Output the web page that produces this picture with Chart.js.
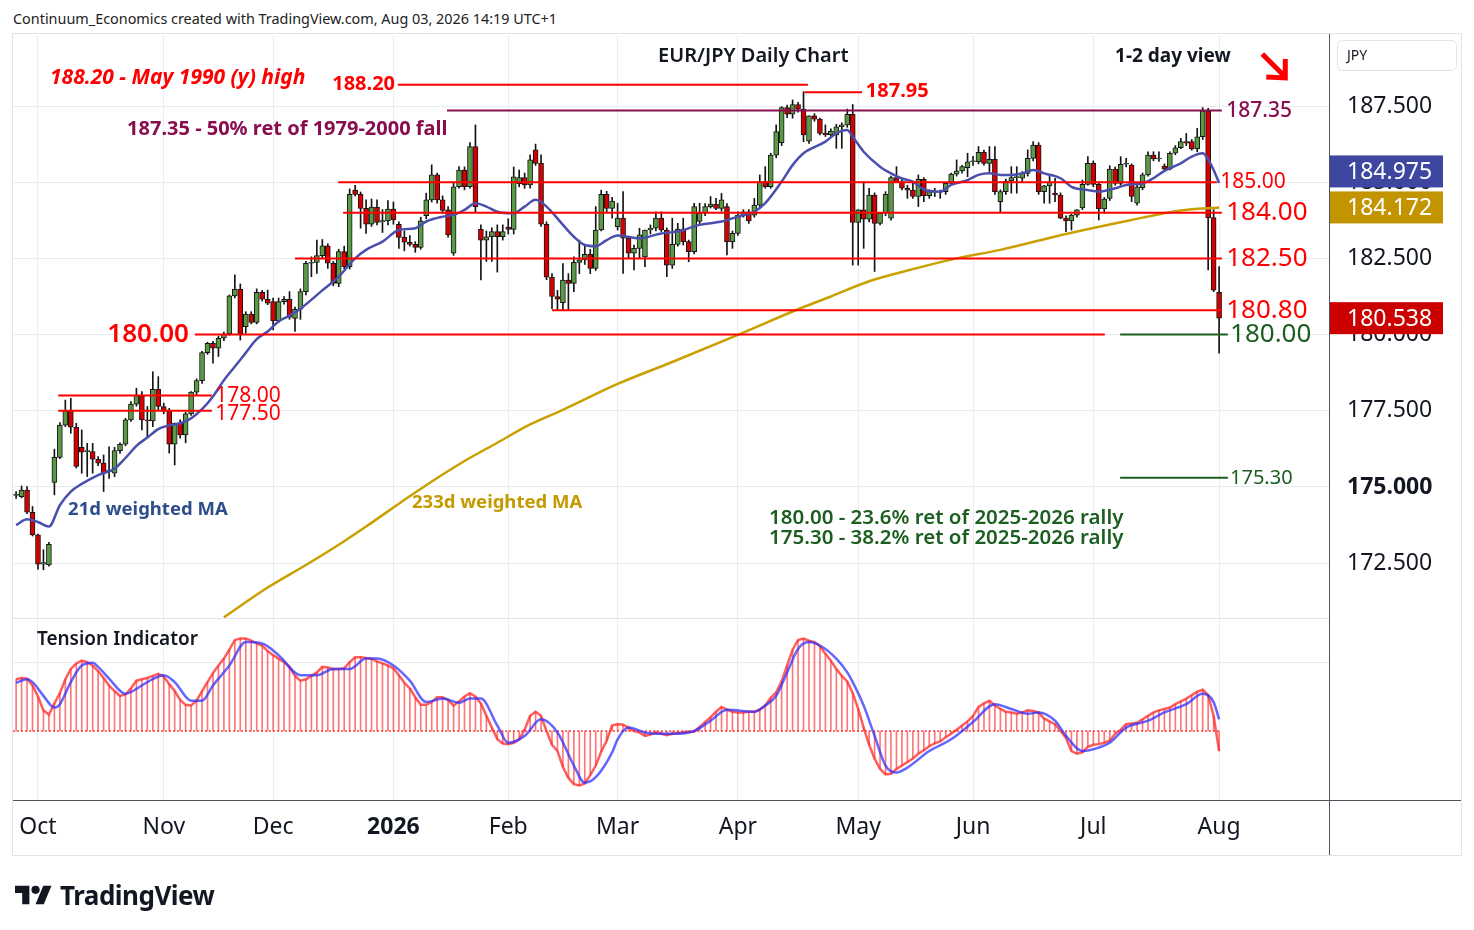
<!DOCTYPE html>
<html>
<head>
<meta charset="utf-8">
<title>EUR/JPY Daily Chart</title>
<script src="https://cdn.jsdelivr.net/npm/chart.js@4.4.1/dist/chart.umd.min.js"></script>
<style>
  html, body { margin: 0; padding: 0; background: #fff; }
  body { position: relative; width: 1474px; height: 930px; overflow: hidden; font-family: "Noto Sans", sans-serif; color: #131722; }
  #header { position: absolute; left: 13px; top: 8px; font-size: 14.4px; line-height: 22px; white-space: nowrap; color: #222; }
  #priceCanvas { position: absolute; left: 0; top: 0; }
  #tensionCanvas { position: absolute; left: 0; top: 618px; }
  #logo { position: absolute; left: 15px; top: 877px; display: flex; align-items: center; gap: 8px; font-weight: 700; font-size: 26px; letter-spacing: -0.5px; color: #131722; }
</style>
</head>
<body>
<div id="header">Continuum_Economics created with TradingView.com, Aug 03, 2026 14:19 UTC+1</div>
<canvas id="priceCanvas" width="1474" height="620"></canvas>
<canvas id="tensionCanvas" width="1474" height="312"></canvas>
<div id="logo"><svg width="37" height="20" viewBox="0 4 36 18"><path d="M14 22H7V11H0V4h14v18z" fill="#131722"/><circle cx="20" cy="8" r="4" fill="#131722"/><path d="M28 22h-8l7.5-18h8L28 22z" fill="#131722"/></svg><span>TradingView</span></div>
<script>
// ---- data (daily bars, 25 Sep 2025 .. 3 Aug 2026, index = bar number) ----
const monthIdx = [4, 27, 47, 69, 90, 110, 132, 154, 175, 197, 220];
const monthLabels = ['Oct', 'Nov', 'Dec', '2026', 'Feb', 'Mar', 'Apr', 'May', 'Jun', 'Jul', 'Aug'];
const priceTicks = [172.5, 175, 177.5, 180, 182.5, 185, 187.5];

const opens = [
  174.72,174.68,174.90,174.17,173.43,172.47,172.44,175.15,175.97,177.03,
  177.49,176.96,176.30,176.16,176.16,175.91,175.78,175.50,175.45,176.19,
  176.40,177.20,177.72,178.00,177.20,177.17,178.20,177.64,177.49,176.40,
  177.09,176.71,177.40,178.11,178.49,179.41,179.71,179.55,179.88,180.02,
  181.27,181.49,180.26,180.67,180.40,181.39,181.16,181.08,180.45,181.08,
  181.16,180.53,180.83,181.41,182.34,182.37,182.59,182.91,182.34,181.68,
  182.72,182.23,184.74,184.60,184.14,183.62,184.18,183.70,183.73,184.12,
  183.62,183.19,183.03,182.96,182.86,183.90,184.42,185.24,184.42,184.09,
  182.67,184.85,185.40,184.85,186.17,183.45,183.10,183.21,183.38,183.21,
  183.52,183.45,184.95,185.15,184.91,186.06,185.62,183.62,181.88,181.25,
  181.05,181.79,181.68,182.37,182.45,182.63,182.17,183.43,184.60,184.14,
  183.54,183.82,183.16,182.67,182.83,182.55,183.43,183.49,183.82,183.43,
  182.28,182.96,183.46,183.05,182.72,183.71,183.98,184.20,184.28,184.14,
  184.20,183.05,183.32,183.92,184.03,183.92,184.25,185.02,184.85,185.89,
  186.30,187.45,187.23,187.55,187.40,186.35,187.18,187.07,186.60,186.55,
  186.55,186.82,186.88,187.23,183.68,184.09,183.79,184.58,183.65,183.98,
  183.82,185.15,185.02,184.80,184.74,184.53,185.09,184.56,184.67,184.69,
  184.69,184.96,185.26,185.37,185.48,185.67,185.67,185.98,185.62,185.75,
  184.36,184.69,185.04,185.15,185.13,185.29,185.78,186.22,184.69,184.88,
  184.64,184.58,183.82,183.73,183.92,184.16,184.93,185.62,184.93,184.12,
  184.47,185.43,184.96,185.59,185.56,184.31,184.82,185.24,185.89,185.76,
  185.53,185.43,185.95,186.13,186.33,186.33,186.09,186.49,187.34,183.84,
  181.39
];
const highs = [
  174.85,175.03,175.01,174.36,173.45,172.94,173.18,176.24,177.11,177.85,
  177.91,177.09,176.87,176.43,176.43,176.00,176.05,176.32,176.30,176.45,
  177.25,177.80,178.24,178.13,177.64,178.78,178.62,177.75,177.58,177.10,
  177.20,177.45,178.13,178.55,179.45,179.75,179.78,179.95,180.08,181.30,
  181.96,181.66,180.75,180.75,181.50,181.45,181.46,181.20,181.20,181.25,
  181.41,180.90,181.50,182.40,182.55,183.10,183.12,182.98,182.40,182.80,
  182.90,184.78,184.90,184.68,184.42,184.45,184.42,184.10,184.40,184.35,
  183.70,183.40,183.25,183.05,183.85,184.64,185.57,185.30,184.55,184.20,
  185.00,185.51,185.50,186.30,186.88,183.60,183.40,183.50,183.60,183.60,
  183.80,185.50,185.40,185.30,185.90,186.25,185.90,183.70,182.00,181.45,
  182.33,182.00,182.55,183.10,182.95,182.80,184.20,184.74,184.70,184.50,
  184.31,184.69,183.20,182.94,183.49,183.43,183.60,184.03,184.03,183.50,
  183.82,183.65,183.82,183.10,184.31,184.31,184.30,184.53,184.47,184.63,
  184.30,183.40,184.03,184.10,184.10,184.47,185.24,185.51,185.95,186.88,
  187.48,187.53,187.70,187.62,187.97,187.18,187.25,187.10,186.88,186.75,
  186.90,186.95,187.40,187.55,184.10,185.02,184.80,184.65,184.00,184.69,
  185.20,185.51,185.10,184.90,184.96,185.24,185.15,184.75,184.80,184.74,
  185.00,185.30,185.73,185.55,185.95,185.85,186.17,186.05,186.17,186.17,
  184.75,185.10,185.51,185.51,185.35,186.06,186.33,186.30,184.90,185.24,
  185.13,184.65,183.90,183.95,184.10,185.07,185.84,185.70,185.00,184.50,
  185.54,185.50,185.84,185.78,185.60,184.90,185.30,186.00,186.00,186.00,
  185.60,186.00,186.20,186.44,186.60,186.40,186.77,187.45,187.42,184.10,
  182.23
];
const lows = [
  174.62,174.64,174.12,173.39,172.30,172.28,172.40,174.74,175.93,176.98,
  176.76,175.62,175.45,175.34,175.45,175.70,174.85,175.28,175.34,176.10,
  176.35,177.15,177.65,176.87,176.65,176.98,177.53,177.40,176.11,175.72,
  176.60,176.45,177.35,178.00,178.40,179.35,179.06,179.28,179.80,179.98,
  181.20,179.82,180.04,180.35,180.35,181.10,180.98,180.15,180.40,181.00,
  180.50,180.10,180.50,181.30,181.90,182.01,182.50,182.17,181.60,181.57,
  182.15,182.15,184.55,183.49,183.32,183.55,183.60,183.35,183.60,183.62,
  182.83,182.75,182.90,182.70,182.80,183.80,184.35,184.31,183.98,183.20,
  182.60,184.80,184.75,184.80,184.00,181.79,182.40,182.40,182.05,183.10,
  183.30,183.30,184.85,184.80,184.80,185.55,183.55,181.80,180.85,180.81,
  180.81,180.81,181.41,182.00,182.30,182.00,182.10,183.40,184.00,183.82,
  183.43,182.01,182.50,182.12,182.50,182.23,183.30,183.40,183.38,181.90,
  182.17,182.90,182.94,182.39,182.65,183.60,183.90,184.15,184.10,184.05,
  182.61,182.83,183.25,183.85,183.65,183.85,184.20,184.80,184.80,185.80,
  186.20,187.12,187.10,187.30,186.33,186.27,187.00,186.55,186.50,186.50,
  186.11,186.11,186.80,182.28,182.28,182.83,183.70,182.07,183.60,183.90,
  183.75,185.00,184.75,184.47,184.47,184.20,184.36,184.47,184.53,184.47,
  184.60,184.90,185.20,185.30,185.18,185.55,185.60,185.56,185.35,184.60,
  184.03,184.60,184.64,184.64,185.00,185.20,185.70,184.60,184.31,184.31,
  184.36,183.80,183.38,183.43,183.85,184.10,184.90,184.85,183.76,183.98,
  184.40,184.90,184.90,185.50,184.36,184.25,184.75,185.20,185.70,185.68,
  185.35,185.40,185.90,186.10,186.20,186.05,186.00,186.40,182.12,181.41,
  179.39
];
const closes = [
  174.76,174.90,174.17,173.43,172.47,172.52,173.12,175.97,177.03,177.49,
  176.96,175.67,176.14,176.16,175.91,175.78,175.45,175.55,176.19,176.40,
  177.20,177.72,178.00,177.20,177.17,178.20,177.64,177.49,176.40,177.09,
  176.71,177.40,178.11,178.49,179.41,179.71,179.55,179.88,180.02,181.27,
  181.49,180.02,180.67,180.40,181.39,181.16,181.03,180.45,181.08,181.16,
  180.57,180.83,181.41,182.34,182.37,182.59,182.91,182.34,181.68,182.72,
  182.23,184.60,184.60,184.14,183.62,184.18,183.68,183.74,184.12,183.76,
  183.19,183.03,182.96,182.86,183.73,184.42,185.24,184.42,184.07,183.27,
  184.85,185.40,184.85,186.17,184.20,183.10,183.21,183.38,183.21,183.38,
  183.45,185.18,185.15,184.91,185.73,185.62,183.62,181.88,181.25,181.16,
  181.79,181.68,182.37,182.45,182.63,182.17,183.43,184.60,184.14,184.38,
  183.82,183.16,182.67,182.83,183.27,183.43,183.49,183.82,183.43,182.28,
  182.96,183.46,183.05,182.72,184.20,183.98,184.20,184.28,184.14,184.42,
  183.05,183.32,183.92,184.03,183.73,184.25,185.02,184.85,185.89,186.66,
  187.45,187.23,187.55,187.40,186.55,187.18,187.07,186.60,186.55,186.68,
  186.82,186.88,187.23,183.68,184.09,183.79,184.58,183.65,183.98,184.60,
  185.15,185.02,184.80,184.74,184.53,185.09,184.56,184.69,184.69,184.67,
  184.96,185.27,185.37,185.51,185.67,185.70,185.98,185.62,185.75,184.69,
  184.69,185.04,185.15,185.16,185.29,185.78,186.22,184.69,184.88,185.00,
  184.58,183.82,183.73,183.92,184.09,184.93,185.62,184.93,184.12,184.45,
  185.43,184.96,185.59,185.60,184.53,184.85,185.24,185.89,185.76,185.76,
  185.43,185.95,186.13,186.33,186.28,186.09,186.49,187.34,183.84,181.46,
  180.538
];

// 21d weighted MA at these bars
const wma21Idx = [0,2,4,6,8,10,12,15,18,20,22,24,26,28,30,32,34,36,38,40,42,44,46,48,50,52,56,59,62,64,
  67,70,73,75,78,80,82,84,86,88,91,93,95,97,100,102,104,106,108,110,114,118,121,125,129,132,135,137,140,142,
  144,148,150,152,153,155,158,160,162,164,166,169,171,174,176,178,180,182,184,186,188,191,193,196,198,201,203,206,208,210,
  213,215,217,218,219,220];
const wma21 = [173.75,173.94,173.85,173.70,174.40,174.85,175.10,175.39,175.60,175.95,176.35,176.62,176.90,177.02,177.09,177.25,177.55,177.97,178.50,178.95,
  179.40,179.85,180.10,180.43,180.62,180.85,181.45,181.90,182.50,182.78,183.05,183.43,183.49,183.71,183.87,183.93,184.09,184.31,184.20,184.03,
  183.98,184.20,184.42,184.20,183.60,183.21,182.94,182.90,183.10,183.25,183.16,183.32,183.38,183.60,183.71,183.87,184.03,184.31,185.02,185.56,
  185.95,186.33,186.60,186.71,186.49,186.00,185.51,185.29,185.12,185.02,184.76,184.69,184.91,185.07,185.24,185.29,185.24,185.24,185.29,185.40,
  185.29,185.13,184.85,184.74,184.69,184.80,184.91,184.96,185.13,185.37,185.62,185.84,185.95,185.75,185.40,184.975];

// 233d weighted MA
const wma233Idx = [38,46,53,60,64,73,82,88,94,100,110,120,132,143,149,156,163,172,180,192,204,213,220];
const wma233 = [170.72,171.70,172.44,173.22,173.70,174.82,175.85,176.45,177.05,177.53,178.38,179.10,179.99,180.83,181.25,181.75,182.10,182.50,182.78,183.30,183.76,184.07,184.172];

// Tension Indicator: histogram / fast line (every bar) and signal line
const tension = [
  0.75,0.77,0.76,0.66,0.50,0.30,0.24,0.40,0.55,0.75,
  0.90,0.98,1.02,1.00,0.95,0.87,0.77,0.66,0.58,0.51,
  0.53,0.62,0.73,0.75,0.77,0.80,0.83,0.79,0.68,0.58,
  0.45,0.38,0.37,0.44,0.58,0.71,0.84,0.95,1.05,1.18,
  1.32,1.34,1.34,1.31,1.27,1.24,1.16,1.10,1.05,1.00,
  0.93,0.80,0.73,0.75,0.80,0.85,0.93,0.92,0.90,0.90,
  0.91,1.00,1.07,1.07,1.06,1.05,1.01,0.98,0.95,0.91,
  0.81,0.70,0.62,0.49,0.38,0.38,0.42,0.49,0.49,0.45,
  0.37,0.43,0.50,0.55,0.50,0.40,0.22,0.05,-0.12,-0.18,
  -0.19,-0.17,-0.12,0.02,0.22,0.28,0.22,0.00,-0.20,-0.29,
  -0.52,-0.68,-0.77,-0.79,-0.76,-0.64,-0.50,-0.30,-0.14,0.08,
  0.10,0.09,0.05,0.00,-0.02,-0.07,-0.05,-0.02,-0.04,-0.06,
  -0.04,-0.03,-0.02,-0.01,-0.01,0.06,0.13,0.20,0.28,0.35,
  0.31,0.28,0.27,0.27,0.28,0.28,0.31,0.37,0.48,0.56,
  0.72,0.95,1.18,1.32,1.34,1.31,1.29,1.23,1.12,1.02,
  0.90,0.80,0.72,0.55,0.32,0.05,-0.20,-0.40,-0.55,-0.63,
  -0.62,-0.55,-0.50,-0.45,-0.40,-0.33,-0.28,-0.22,-0.18,-0.15,
  -0.09,-0.04,0.02,0.08,0.14,0.22,0.35,0.40,0.44,0.37,
  0.32,0.28,0.27,0.25,0.27,0.30,0.29,0.27,0.18,0.14,
  0.10,0.00,-0.10,-0.29,-0.33,-0.31,-0.23,-0.20,-0.19,-0.17,
  -0.14,-0.04,0.02,0.10,0.11,0.12,0.17,0.22,0.27,0.30,
  0.32,0.34,0.39,0.43,0.47,0.52,0.57,0.60,0.52,0.22,
  -0.29
];
const tensionSigIdx = [0,2,3,5,7,8,10,12,14,15,17,20,22,24,27,29,32,34,36,39,42,45,48,52,55,58,61,64,66,69,
  72,75,78,81,83,85,88,90,93,96,99,102,104,106,109,110,112,115,117,120,124,127,130,135,137,139,141,143,145,147,
  150,152,153,155,157,159,161,163,167,171,175,179,182,185,187,190,192,195,198,200,203,207,210,214,217,219,220];
const tensionSig = [0.70,0.75,0.71,0.51,0.34,0.39,0.71,0.95,0.99,0.93,0.76,0.54,0.61,0.71,0.81,0.71,0.44,0.44,0.66,0.95,
  1.29,1.27,1.10,0.81,0.81,0.90,0.90,1.05,1.05,0.95,0.73,0.42,0.47,0.41,0.47,0.47,0.08,-0.17,-0.07,0.17,
  -0.02,-0.50,-0.75,-0.67,-0.31,-0.12,0.05,-0.02,-0.04,-0.04,0.00,0.15,0.31,0.28,0.37,0.51,0.85,1.19,1.29,1.24,
  1.05,0.85,0.71,0.37,-0.07,-0.50,-0.60,-0.53,-0.29,-0.12,0.13,0.39,0.32,0.25,0.27,0.15,-0.07,-0.29,-0.24,-0.17,
  0.05,0.15,0.27,0.39,0.54,0.42,0.17];

// ---- styling / layout ----
const X_MIN = -0.57, X_MAX = 240.1;
const P_MIN = 170.7, P_MAX = 189.83;
const T_MIN = -1.0, T_MAX = 1.61;
const FONT = '"Noto Sans", sans-serif';
const GRID = '#e9edf3';
const FRAME = '#e0e3eb';
const AXIS_LINE = '#50535e';
const RED = '#ff0000';
const PURPLE = '#880e4f';
const DKGREEN = '#1b5e20';
const CANDLE_UP = '#5b9a45';
const CANDLE_DN = '#d40000';

// trend / retracement levels drawn on the chart
const levels = [
  { p: 188.20, from: 69.8,  to: 144.8, c: RED },
  { p: 187.95, from: 144.2, to: 154.7, c: RED },
  { p: 187.35, from: 78.8,  to: 220.5, c: PURPLE },
  { p: 185.00, from: 58.9,  to: 219.6, c: RED },
  { p: 184.00, from: 59.8,  to: 220.5, c: RED },
  { p: 182.50, from: 51.0,  to: 220.5, c: RED },
  { p: 180.80, from: 98.0,  to: 220.5, c: RED },
  { p: 180.00, from: 32.7,  to: 199.1, c: RED },
  { p: 180.00, from: 201.9, to: 221.6, c: DKGREEN },
  { p: 178.00, from: 7.7,   to: 35.8,  c: RED },
  { p: 177.50, from: 7.7,   to: 35.8,  c: RED },
  { p: 175.30, from: 201.9, to: 221.6, c: DKGREEN }
];

const priceNotes = [
  { t: '188.20 - May 1990 (y) high', i: 6.2, p: 188.42, c: RED, f: 'italic bold 21px ' + FONT },
  { t: '188.20', i: 69.3, p: 188.20, c: RED, f: 'bold 20px ' + FONT, a: 'right' },
  { t: '187.35 - 50% ret of 1979-2000 fall', i: 20.3, p: 186.75, c: PURPLE, f: 'bold 20px ' + FONT },
  { t: 'EUR/JPY Daily Chart', i: 117.4, p: 189.14, c: '#131722', f: '600 20px ' + FONT },
  { t: '1-2 day view', i: 200.97, p: 189.11, c: '#131722', f: 'bold 19px ' + FONT },
  { t: '187.95', i: 155.4, p: 187.97, c: RED, f: 'bold 20px ' + FONT },
  { t: '187.35', i: 221.3, p: 187.35, c: PURPLE, f: '500 21px ' + FONT },
  { t: '185.00', i: 220.2, p: 185.00, c: RED, f: '21px ' + FONT },
  { t: '184.00', i: 221.3, p: 184.00, c: RED, f: '26px ' + FONT },
  { t: '182.50', i: 221.3, p: 182.50, c: RED, f: '26px ' + FONT },
  { t: '180.80', i: 221.3, p: 180.80, c: RED, f: '26px ' + FONT },
  { t: '180.00', i: 222.0, p: 180.00, c: DKGREEN, f: '26px ' + FONT },
  { t: '180.00', i: 31.6, p: 180.00, c: RED, f: '600 26px ' + FONT, a: 'right' },
  { t: '178.00', i: 36.4, p: 178.00, c: RED, f: '21px ' + FONT },
  { t: '177.50', i: 36.4, p: 177.40, c: RED, f: '21px ' + FONT },
  { t: '175.30', i: 222.0, p: 175.30, c: DKGREEN, f: '20px ' + FONT },
  { t: '21d weighted MA', i: 9.5, p: 174.25, c: '#2d4e8a', f: 'bold 18.5px ' + FONT },
  { t: '233d weighted MA', i: 72.4, p: 174.48, c: '#c49a00', f: 'bold 18.5px ' + FONT },
  { t: '180.00 - 23.6% ret of 2025-2026 rally', i: 137.7, p: 173.98, c: DKGREEN, f: '600 20.5px ' + FONT },
  { t: '175.30 - 38.2% ret of 2025-2026 rally', i: 137.7, p: 173.33, c: DKGREEN, f: '600 20.5px ' + FONT }
];

const idx = closes.map((_, i) => i);
const wickData = idx.map(i => ({ x: i, y: [lows[i], highs[i]] }));
const bodyData = idx.map(i => ({ x: i, y: [opens[i], closes[i]] }));
const bodyColors = idx.map(i => closes[i] >= opens[i] ? CANDLE_UP : CANDLE_DN);
const last = a => a[a.length - 1];

function xAxis(showLabels) {
  return {
    type: 'linear', min: X_MIN, max: X_MAX, offset: false,
    afterBuildTicks: s => { s.ticks = monthIdx.map(v => ({ value: v })); },
    afterFit: s => { s.height = showLabels ? 55 : 0; s.paddingLeft = 0; s.paddingRight = 0; },
    ticks: {
      display: showLabels, autoSkip: false, maxRotation: 0, padding: 14, color: '#131722',
      font: ctx => ({ family: FONT, size: 23, weight: monthLabels[ctx.index] === '2026' ? 'bold' : 'normal' }),
      callback: (v, k) => monthLabels[k]
    },
    grid: { color: GRID, drawTicks: false, offset: false },
    border: { display: false }
  };
}

const pricePlugin = {
  id: 'priceOverlay',
  afterDraw(chart) {
    const { ctx, scales: { x, y }, chartArea: a } = chart;
    ctx.save();
    ctx.textBaseline = 'middle';
    priceNotes.forEach(n => {
      ctx.font = n.f;
      ctx.fillStyle = n.c;
      ctx.textAlign = n.a || 'left';
      ctx.fillText(n.t, x.getPixelForValue(n.i), y.getPixelForValue(n.p));
    });

    // direction arrow next to "1-2 day view"
    const ax = x.getPixelForValue(227.9), ay = y.getPixelForValue(189.21);
    ctx.strokeStyle = RED; ctx.lineWidth = 5; ctx.lineCap = 'butt';
    ctx.beginPath();
    ctx.moveTo(ax, ay); ctx.lineTo(ax + 21, ay + 21);
    ctx.moveTo(ax + 23, ay + 5); ctx.lineTo(ax + 23, ay + 24); ctx.lineTo(ax + 4, ay + 23);
    ctx.stroke();

    // frame and separators
    ctx.lineWidth = 1;
    ctx.strokeStyle = FRAME;
    ctx.beginPath();
    ctx.moveTo(12.5, chart.height); ctx.lineTo(12.5, 33.5); ctx.lineTo(1461.5, 33.5); ctx.lineTo(1461.5, chart.height);
    ctx.moveTo(13, a.bottom + 0.5); ctx.lineTo(a.right, a.bottom + 0.5);
    ctx.stroke();
    ctx.strokeStyle = AXIS_LINE;
    ctx.beginPath(); ctx.moveTo(a.right + 0.5, 34); ctx.lineTo(a.right + 0.5, chart.height); ctx.stroke();

    // currency box
    ctx.strokeStyle = FRAME; ctx.fillStyle = '#fff';
    ctx.beginPath();
    if (ctx.roundRect) ctx.roundRect(1337.5, 40.5, 119, 30, 5); else ctx.rect(1337.5, 40.5, 119, 30);
    ctx.fill(); ctx.stroke();
    ctx.fillStyle = '#131722'; ctx.font = '14px ' + FONT; ctx.textAlign = 'left';
    ctx.fillText('JPY', 1347, 56);

    // last-value tags
    const gold = y.getPixelForValue(last(wma233));
    const blue = Math.min(y.getPixelForValue(last(wma21)), gold - 36);
    const red = y.getPixelForValue(last(closes));
    [[blue, last(wma21), '#3d47a0'], [gold, last(wma233), '#c29500'], [red, last(closes), '#cc0000']].forEach(([cy, v, bg]) => {
      ctx.fillStyle = bg;
      ctx.fillRect(a.right + 1, cy - 16, 113, 32);
      ctx.fillStyle = '#fff';
      ctx.font = '23px ' + FONT;
      ctx.fillText(v.toFixed(3), 1347, cy + 1);
    });
    ctx.restore();
  }
};

new Chart(document.getElementById('priceCanvas'), {
  type: 'bar',
  data: {
    datasets: [
      ...levels.map(l => ({
        type: 'line', data: [{ x: l.from, y: l.p }, { x: l.to, y: l.p }],
        borderColor: l.c, borderWidth: 2, pointRadius: 0, order: 0
      })),
      { type: 'line', data: wma21Idx.map((v, k) => ({ x: v, y: wma21[k] })), borderColor: '#4a4fae',
        borderWidth: 2.5, pointRadius: 0, cubicInterpolationMode: 'monotone', order: 1 },
      { type: 'line', data: wma233Idx.map((v, k) => ({ x: v, y: wma233[k] })), borderColor: '#c9a000',
        borderWidth: 2.5, pointRadius: 0, cubicInterpolationMode: 'monotone', order: 1 },
      { type: 'bar', data: bodyData, backgroundColor: bodyColors, borderColor: '#141414', borderWidth: 1,
        borderSkipped: false, barThickness: 5, grouped: false, minBarLength: 1, order: 2 },
      { type: 'bar', data: wickData, backgroundColor: '#141414', barThickness: 1, grouped: false, order: 3 }
    ]
  },
  options: {
    responsive: false, animation: false, devicePixelRatio: 1, events: [],
    layout: { padding: { left: 13, top: 35, right: 0, bottom: 2 } },
    plugins: { legend: { display: false }, tooltip: { enabled: false } },
    scales: {
      x: xAxis(false),
      y: {
        type: 'linear', position: 'right', min: P_MIN, max: P_MAX,
        afterBuildTicks: s => { s.ticks = priceTicks.map(v => ({ value: v })); },
        afterFit: s => { s.width = 145; s.paddingTop = 0; s.paddingBottom = 0; },
        ticks: {
          padding: 18, color: '#131722',
          font: ctx => ({ family: FONT, size: 23, weight: ctx.tick && ctx.tick.value === 175 ? 'bold' : 'normal' }),
          callback: v => v.toFixed(3)
        },
        grid: { color: GRID, drawTicks: false },
        border: { display: false }
      }
    }
  },
  plugins: [pricePlugin]
});

const tensionPlugin = {
  id: 'tensionOverlay',
  afterDraw(chart) {
    const { ctx, scales: { x, y }, chartArea: a } = chart;
    ctx.save();
    ctx.fillStyle = '#131722';
    ctx.font = '600 19px ' + FONT;
    ctx.textBaseline = 'middle';
    ctx.fillText('Tension Indicator', x.getPixelForValue(3.8), y.getPixelForValue(1.33));
    ctx.lineWidth = 1;
    ctx.strokeStyle = FRAME;
    ctx.beginPath();
    ctx.moveTo(12.5, 0); ctx.lineTo(12.5, 237.5); ctx.lineTo(1461.5, 237.5); ctx.lineTo(1461.5, 0);
    ctx.stroke();
    ctx.strokeStyle = AXIS_LINE;
    ctx.beginPath();
    ctx.moveTo(13, a.bottom + 0.5); ctx.lineTo(1461, a.bottom + 0.5);
    ctx.moveTo(a.right + 0.5, 0); ctx.lineTo(a.right + 0.5, 237);
    ctx.stroke();
    ctx.restore();
  }
};

new Chart(document.getElementById('tensionCanvas'), {
  type: 'bar',
  data: {
    datasets: [
      { type: 'line', data: [{ x: X_MIN, y: 0 }, { x: 220, y: 0 }], borderColor: 'rgba(255,0,0,0.9)',
        borderWidth: 1.2, borderDash: [2, 2], pointRadius: 0, order: 3 },
      { type: 'bar', data: tension.map((v, i) => ({ x: i, y: v })), backgroundColor: 'rgba(255,45,45,0.65)',
        barThickness: 1, grouped: false, order: 2 },
      { type: 'line', data: tension.map((v, i) => ({ x: i, y: v })), borderColor: 'rgba(255,40,40,0.75)',
        borderWidth: 2.5, pointRadius: 0, order: 1 },
      { type: 'line', data: tensionSigIdx.map((v, k) => ({ x: v, y: tensionSig[k] })), borderColor: 'rgba(50,50,255,0.75)',
        borderWidth: 2.5, pointRadius: 0, cubicInterpolationMode: 'monotone', order: 0 }
    ]
  },
  options: {
    responsive: false, animation: false, devicePixelRatio: 1, events: [],
    layout: { padding: { left: 13, top: 2, right: 0, bottom: 75 } },
    plugins: { legend: { display: false }, tooltip: { enabled: false } },
    scales: {
      x: xAxis(true),
      y: {
        type: 'linear', position: 'right', min: T_MIN, max: T_MAX,
        afterBuildTicks: s => { s.ticks = [{ value: 1 }]; },
        afterFit: s => { s.width = 145; s.paddingTop = 0; s.paddingBottom = 0; },
        ticks: { display: false },
        grid: { color: GRID, drawTicks: false },
        border: { display: false }
      }
    }
  },
  plugins: [tensionPlugin]
});
</script>
</body>
</html>
